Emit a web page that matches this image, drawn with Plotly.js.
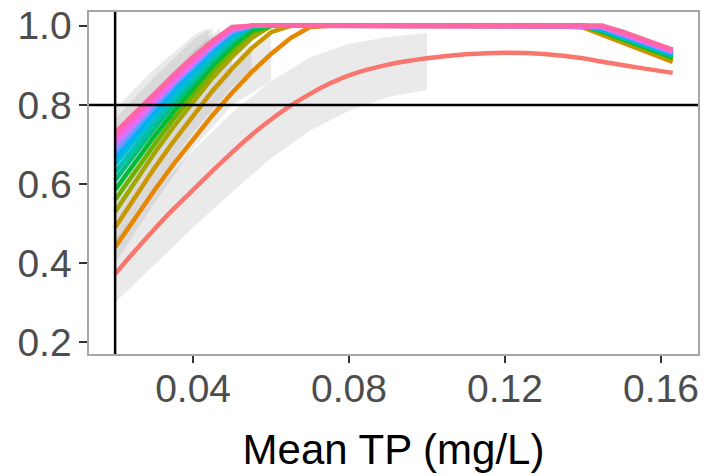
<!DOCTYPE html>
<html>
<head>
<meta charset="utf-8">
<script src="https://cdn.plot.ly/plotly-3.0.1.min.js"></script>
<style>html,body{margin:0;padding:0;background:#fff;}#chart{width:706px;height:476px;}</style>
</head>
<body>
<div id="chart"></div>
<script>
// x grid (Mean TP, mg/L)
var meanTP = [0.02,0.025,0.03,0.035,0.04,0.045,0.05,0.055,0.06,0.065,0.07,0.075,0.08,0.09,0.10,0.11,0.12,0.13,0.14,0.145,0.15,0.155,0.163];

// series values
var s01 = [0.372,0.43,0.485,0.537,0.585,0.633,0.68,0.724,0.763,0.798,0.828,0.854,0.875,0.902,0.918,0.928,0.932,0.929,0.918,0.909,0.901,0.893,0.881];
var s02 = [0.44,0.513,0.583,0.650,0.714,0.774,0.831,0.883,0.929,0.969,0.997,1,1,1,1,1,1,1,0.996,0.977,0.958,0.939,0.909];
var s03 = [0.49,0.565,0.639,0.708,0.774,0.836,0.892,0.943,0.984,1,1,1,1,1,1,1,1,1,0.998,0.979,0.961,0.942,0.912];
var s04 = [0.53,0.605,0.677,0.745,0.809,0.869,0.922,0.969,1,1,1,1,1,1,1,1,1,1,1,0.982,0.963,0.945,0.915];
var s05 = [0.56,0.631,0.699,0.765,0.827,0.885,0.937,0.982,1,1,1,1,1,1,1,1,1,1,1,0.984,0.965,0.947,0.918];
var s06 = [0.585,0.654,0.720,0.783,0.843,0.899,0.948,0.989,1,1,1,1,1,1,1,1,1,1,1,0.986,0.968,0.950,0.921];
var s07 = [0.61,0.676,0.740,0.801,0.858,0.911,0.959,0.996,1,1,1,1,1,1,1,1,1,1,1,0.988,0.970,0.952,0.924];
var s08 = [0.63,0.693,0.753,0.811,0.866,0.918,0.964,1,1,1,1,1,1,1,1,1,1,1,1,0.989,0.972,0.954,0.926];
var s09 = [0.65,0.711,0.770,0.826,0.879,0.929,0.973,1,1,1,1,1,1,1,1,1,1,1,1,0.991,0.974,0.956,0.928];
var s10 = [0.665,0.725,0.783,0.838,0.890,0.939,0.981,1,1,1,1,1,1,1,1,1,1,1,1,0.993,0.976,0.958,0.930];
var s11 = [0.68,0.738,0.794,0.848,0.898,0.945,0.985,1,1,1,1,1,1,1,1,1,1,1,1,0.995,0.977,0.960,0.932];
var s12 = [0.695,0.751,0.805,0.857,0.906,0.951,0.989,1,1,1,1,1,1,1,1,1,1,1,1,0.997,0.979,0.962,0.934];
var s13 = [0.705,0.758,0.810,0.860,0.907,0.952,0.991,1,1,1,1,1,1,1,1,1,1,1,1,0.998,0.981,0.964,0.936];
var s14 = [0.72,0.771,0.821,0.869,0.915,0.957,0.995,1,1,1,1,1,1,1,1,1,1,1,1,1,0.983,0.966,0.938];
var s15 = [0.73,0.780,0.829,0.876,0.921,0.962,0.997,1,1,1,1,1,1,1,1,1,1,1,1,1,0.986,0.968,0.940];
var seriesColors = ['#F8766D','#E58700','#C99800','#A3A500','#6BB100','#00BA38','#00BF7D','#00C0AF','#00BCD8','#00B0F6','#619CFF','#B983FF','#E76BF3','#FD61D1','#FF67A4'];

// confidence ribbons
var ribRedX = [0.02,0.03,0.04,0.05,0.06,0.07,0.08,0.09,0.10];
var ribRedLo = [0.30,0.395,0.49,0.58,0.665,0.735,0.785,0.82,0.838];
var ribRedHi = [0.46,0.58,0.685,0.78,0.86,0.92,0.955,0.972,0.982];
var ribOrX = [0.02,0.03,0.04,0.05,0.06];
var ribOrLo = [0.40,0.55,0.69,0.80,0.86];
var ribOrHi = [0.50,0.645,0.775,0.89,0.985];
var ribGoX = [0.02,0.03,0.04,0.05,0.055];
var ribGoLo = [0.44,0.59,0.73,0.845,0.89];
var ribGoHi = [0.55,0.70,0.835,0.95,0.995];
var ribAX = [0.02,0.03,0.04,0.05];
var ribALo = [0.50,0.64,0.77,0.88];
var ribAHi = [0.62,0.76,0.885,0.99];
var ribBX = [0.02,0.03,0.04,0.047];
var ribBLo = [0.59,0.71,0.82,0.89];
var ribBHi = [0.71,0.83,0.935,0.995];
var ribCX = [0.02,0.03,0.04,0.045];
var ribCLo = [0.645,0.75,0.85,0.89];
var ribCHi = [0.765,0.87,0.965,0.995];
var ribDX = [0.02,0.03,0.04,0.044];
var ribDLo = [0.67,0.77,0.86,0.90];
var ribDHi = [0.79,0.89,0.975,0.995];

// reference lines
var refX = [0.02];
var refY = [0.8];

var xTicks = [0.04,0.08,0.12,0.16];
var xTickText = ['0.04','0.08','0.12','0.16'];
var yTicks = [0.2,0.4,0.6,0.8,1.0];
var yTickText = ['0.2','0.4','0.6','0.8','1.0'];

var traces = [];
function ribbon(x, lo, hi) {
  traces.push({
    x: x.concat(x.slice().reverse()),
    y: lo.concat(hi.slice().reverse()),
    type: 'scatter', mode: 'lines', fill: 'toself',
    fillcolor: 'rgba(150,150,150,0.2)', line: {width: 0},
    hoverinfo: 'skip', showlegend: false
  });
}
ribbon(ribRedX, ribRedLo, ribRedHi);
ribbon(ribOrX, ribOrLo, ribOrHi);
ribbon(ribGoX, ribGoLo, ribGoHi);
ribbon(ribAX, ribALo, ribAHi);
ribbon(ribBX, ribBLo, ribBHi);
ribbon(ribCX, ribCLo, ribCHi);
ribbon(ribDX, ribDLo, ribDHi);

var allSeries = [s01,s02,s03,s04,s05,s06,s07,s08,s09,s10,s11,s12,s13,s14,s15];
allSeries.forEach(function (ys, i) {
  traces.push({
    x: meanTP, y: ys, type: 'scatter', mode: 'lines',
    line: {color: seriesColors[i], width: 4.5, shape: i === 0 ? 'spline' : 'linear', smoothing: 1},
    showlegend: false
  });
});

var layout = {
  width: 706, height: 476,
  paper_bgcolor: '#fff', plot_bgcolor: '#fff',
  margin: {l: 89, r: 8, t: 12, b: 122},
  font: {family: 'Liberation Sans, Arial, sans-serif', color: '#4D4D4D'},
  showlegend: false,
  xaxis: {
    range: [0.0133, 0.1695], tickvals: xTicks, ticktext: xTickText,
    tickfont: {size: 39, color: '#4D4D4D'},
    ticks: 'outside', ticklen: 7, tickwidth: 1.5, tickcolor: '#333',
    ticklabelstandoff: -7,
    showline: true, mirror: true, linecolor: '#A6A6A6', linewidth: 1.6,
    showgrid: false, zeroline: false,
    title: {text: 'Mean TP (mg/L)', font: {size: 42, color: '#000'}, standoff: 25}
  },
  yaxis: {
    range: [0.17, 1.035], tickvals: yTicks, ticktext: yTickText,
    tickfont: {size: 39, color: '#4D4D4D'},
    ticks: 'outside', ticklen: 8, tickwidth: 1.5, tickcolor: '#333',
    showline: true, mirror: true, linecolor: '#A6A6A6', linewidth: 1.6,
    showgrid: false, zeroline: false
  },
  shapes: [
    {type: 'line', xref: 'x', yref: 'paper', x0: refX[0], x1: refX[0], y0: 0, y1: 1, line: {color: '#000', width: 2.5}},
    {type: 'line', xref: 'paper', yref: 'y', x0: 0, x1: 1, y0: refY[0], y1: refY[0], line: {color: '#000', width: 2.5}}
  ]
};

Plotly.newPlot('chart', traces, layout, {staticPlot: true, displayModeBar: false});
</script>
</body>
</html>
